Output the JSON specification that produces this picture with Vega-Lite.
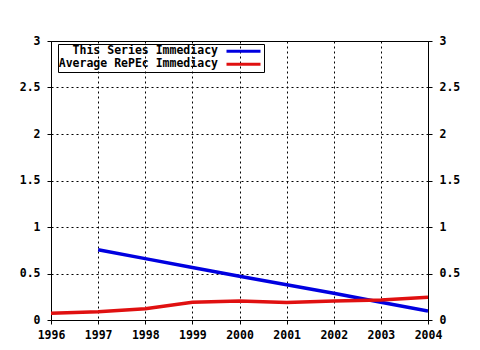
{
  "$schema": "https://vega.github.io/schema/vega-lite/v6.json",
  "width": 377,
  "height": 279,
  "autosize": {"type": "none"},
  "padding": {"left": 51, "top": 41, "right": 52, "bottom": 30},
  "background": "white",
  "config": {
    "view": {"stroke": "black", "strokeWidth": 1},
    "font": "DejaVu Sans Mono",
    "axis": {
      "labelFont": "DejaVu Sans Mono",
      "labelFontSize": 11.5,
      "labelFontWeight": "bold",
      "labelColor": "black",
      "labelFlush": false,
      "labelOverlap": false,
      "domain": false,
      "tickColor": "black",
      "gridColor": "black",
      "gridDash": [2, 3],
      "gridOpacity": 1,
      "title": null
    }
  },
  "data": {
    "values": [
      {"year": 1997, "value": 0.755, "series": "This Series Immediacy"},
      {"year": 1998, "value": 0.66, "series": "This Series Immediacy"},
      {"year": 1999, "value": 0.565, "series": "This Series Immediacy"},
      {"year": 2000, "value": 0.47, "series": "This Series Immediacy"},
      {"year": 2001, "value": 0.378, "series": "This Series Immediacy"},
      {"year": 2002, "value": 0.287, "series": "This Series Immediacy"},
      {"year": 2003, "value": 0.19, "series": "This Series Immediacy"},
      {"year": 2004, "value": 0.097, "series": "This Series Immediacy"},
      {"year": 1996, "value": 0.072, "series": "Average RePEc Immediacy"},
      {"year": 1997, "value": 0.09, "series": "Average RePEc Immediacy"},
      {"year": 1998, "value": 0.12, "series": "Average RePEc Immediacy"},
      {"year": 1999, "value": 0.19, "series": "Average RePEc Immediacy"},
      {"year": 2000, "value": 0.205, "series": "Average RePEc Immediacy"},
      {"year": 2001, "value": 0.187, "series": "Average RePEc Immediacy"},
      {"year": 2002, "value": 0.205, "series": "Average RePEc Immediacy"},
      {"year": 2003, "value": 0.215, "series": "Average RePEc Immediacy"},
      {"year": 2004, "value": 0.245, "series": "Average RePEc Immediacy"}
    ]
  },
  "layer": [
    {
      "mark": {"type": "line", "strokeWidth": 3.5, "clip": true},
      "encoding": {
        "x": {
          "field": "year",
          "type": "quantitative",
          "scale": {"domain": [1996, 2004], "nice": false, "zero": false},
          "axis": {
            "values": [1996, 1997, 1998, 1999, 2000, 2001, 2002, 2003, 2004],
            "format": "d",
            "grid": true,
            "tickSize": 4,
            "labelPadding": 5
          }
        },
        "y": {
          "field": "value",
          "type": "quantitative",
          "scale": {"domain": [0, 3], "nice": false},
          "axis": {
            "values": [0, 0.5, 1, 1.5, 2, 2.5, 3],
            "format": "~g",
            "grid": true,
            "tickSize": 4,
            "labelPadding": 7
          }
        },
        "color": {
          "field": "series",
          "type": "nominal",
          "scale": {
            "domain": ["This Series Immediacy", "Average RePEc Immediacy"],
            "range": ["#0000e0", "#e01010"]
          },
          "legend": {
            "title": null,
            "orient": "none",
            "legendX": 7,
            "legendY": 3,
            "strokeColor": "black",
            "padding": 1,
            "rowPadding": 0,
            "clipHeight": 12.5,
            "symbolType": "stroke",
            "symbolStrokeWidth": 3,
            "symbolSize": 1156,
            "symbolOffset": 166,
            "labelOffset": 1,
            "labelAlign": "right",
            "labelExpr": "datum.label + '\u2800\u2800\u2800\u2800\u2800'",
            "labelFont": "DejaVu Sans Mono",
            "labelFontSize": 11.5,
            "labelFontWeight": "bold",
            "labelColor": "black",
            "labelLimit": 400
          }
        }
      }
    },
    {
      "mark": {"type": "line", "opacity": 0},
      "encoding": {
        "x": {"field": "year", "type": "quantitative"},
        "y": {
          "field": "value",
          "type": "quantitative",
          "axis": {
            "orient": "right",
            "values": [0, 0.5, 1, 1.5, 2, 2.5, 3],
            "format": "~g",
            "grid": false,
            "tickSize": 4,
            "labelPadding": 7
          }
        }
      }
    }
  ],
  "resolve": {"axis": {"y": "independent"}}
}
